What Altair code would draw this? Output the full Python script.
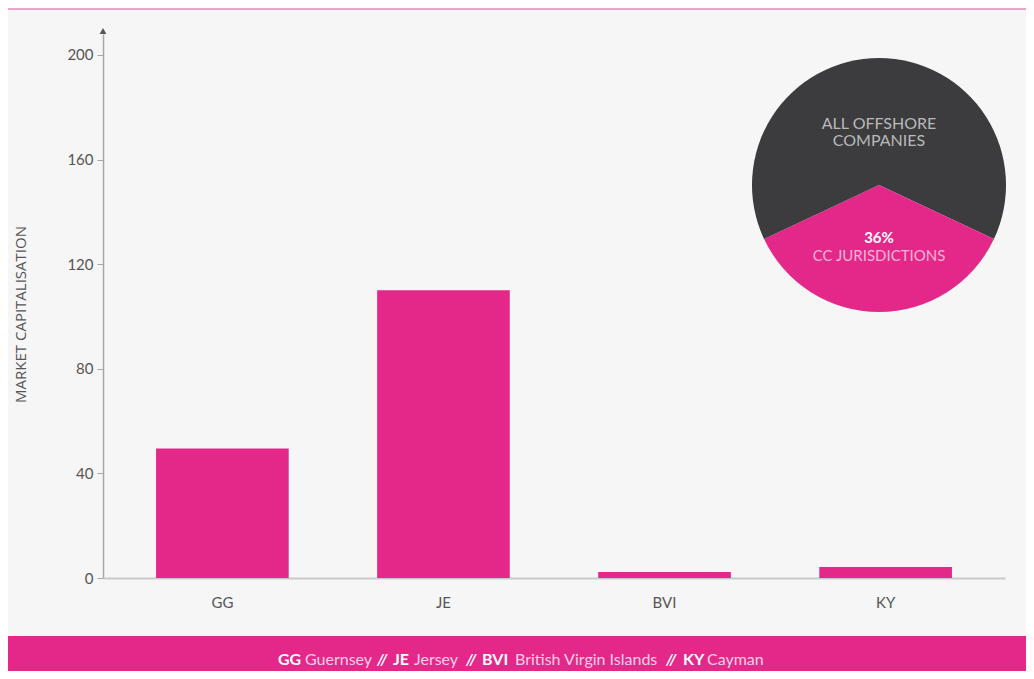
import altair as alt
import pandas as pd

# ---- data ----
codes = ["GG", "JE", "BVI", "KY"]
market_cap = [49.5, 110.0, 2.3, 4.2]
y_ticks = [0, 40, 80, 120, 160, 200]

pie_labels = ["ALL OFFSHORE COMPANIES", "CC JURISDICTIONS", "ALL OFFSHORE COMPANIES"]
pie_share = [32, 36, 32]          # CC jurisdictions 36 %, rest split around it
pie_colors = ["#3c3c3e", "#e4288a", "#3c3c3e"]

footer_parts = ["GG", "Guernsey", "//", "JE", "Jersey", "//", "BVI",
                "British Virgin Islands", "//", "KY", "Cayman"]
footer_bold = [True, False, True, True, False, True, True, False, True, True, False]

# ---- layout constants ----
W, H = 902, 544
PAD = {"left": 95, "top": 26, "right": 21, "bottom": 93}
PINK = "#e4288a"
FONT = "Lato"
footer_x = [278, 305, 377, 393, 414, 466, 482, 515, 666, 683, 707]  # page px

bars_df = pd.DataFrame({"code": codes, "value": market_cap})
pie_df = pd.DataFrame({"label": pie_labels, "share": pie_share,
                       "color": pie_colors, "order": [0, 1, 2]})
one = pd.DataFrame({"a": [0]})

bars = alt.Chart(bars_df).mark_bar(color=PINK).encode(
    x=alt.X("code:N", sort=codes, title=None,
            scale=alt.Scale(paddingInner=0.4, paddingOuter=0.24),
            axis=alt.Axis(domainColor="#c9c9c9", domainWidth=2, ticks=False,
                          labelAngle=0, labelFontSize=15, labelColor="#555555",
                          labelFont=FONT, labelPadding=17)),
    y=alt.Y("value:Q", title="MARKET CAPITALISATION",
            scale=alt.Scale(domain=[0, 208], nice=False),
            axis=alt.Axis(values=y_ticks, grid=False, domainColor="#a8a8a8",
                          domainWidth=1.5, tickColor="#a8a8a8", tickSize=6,
                          labelFontSize=15, labelColor="#555555", labelFont=FONT,
                          labelPadding=4, titleFont="Open Sans", titleFontSize=15,
                          titleFontWeight="normal", titleColor="#555555",
                          titleX=-83, titleY=280, titleAngle=-90,
                          titleAlign="center", titleBaseline="middle")),
)

arrow = alt.Chart(one).mark_point(shape="triangle-up", filled=True, size=45,
                                  color="#555555", opacity=1).encode(
    x=alt.value(0), y=alt.value(-3))

pie = alt.Chart(pie_df).mark_arc(radius=127).encode(
    theta=alt.Theta("share:Q", stack=True),
    order=alt.Order("order:Q"),
    color=alt.Color("color:N", scale=None),
    x=alt.value(776), y=alt.value(151),
)


def txt(s, x, y, color, size=15, weight="normal", align="center", style="normal"):
    return alt.Chart(one).mark_text(font=FONT, fontSize=size, fontWeight=weight,
                                    fontStyle=style, color=color, align=align,
                                    baseline="middle").encode(
        x=alt.value(x), y=alt.value(y), text=alt.value(s))


pie_texts = [
    txt("ALL OFFSHORE", 776, 90, "#b9b9b9", size=16),
    txt("COMPANIES", 776, 107, "#b9b9b9", size=16),
    txt("36%", 776, 204, "#ffffff", size=15, weight="bold"),
    txt("CC JURISDICTIONS", 776, 222, "#f6b3d5", size=15),
]

footer = alt.Chart(one).mark_rect(color=PINK).encode(
    x=alt.value(-95), x2=alt.value(W + 30), y=alt.value(602), y2=alt.value(H + 100))

top_line = alt.Chart(one).mark_rule(color="#eaa3cb", strokeWidth=2).encode(
    x=alt.value(-95), x2=alt.value(W + 30), y=alt.value(-25))

footer_texts = [
    txt(s, px - 103, 626, "#ffffff" if b else "#fbd0e6", size=16,
        weight="bold" if b else "normal", align="left",
        style="italic" if s == "//" else "normal")
    for s, b, px in zip(footer_parts, footer_bold, footer_x)
]

chart = alt.layer(bars, arrow, pie, *pie_texts, footer, top_line, *footer_texts).properties(
    width=W, height=H, padding=PAD, autosize="none", background="#f6f6f6"
).configure_view(stroke=None)

chart.save("out.html", embed_options={"renderer": "svg", "actions": False})
